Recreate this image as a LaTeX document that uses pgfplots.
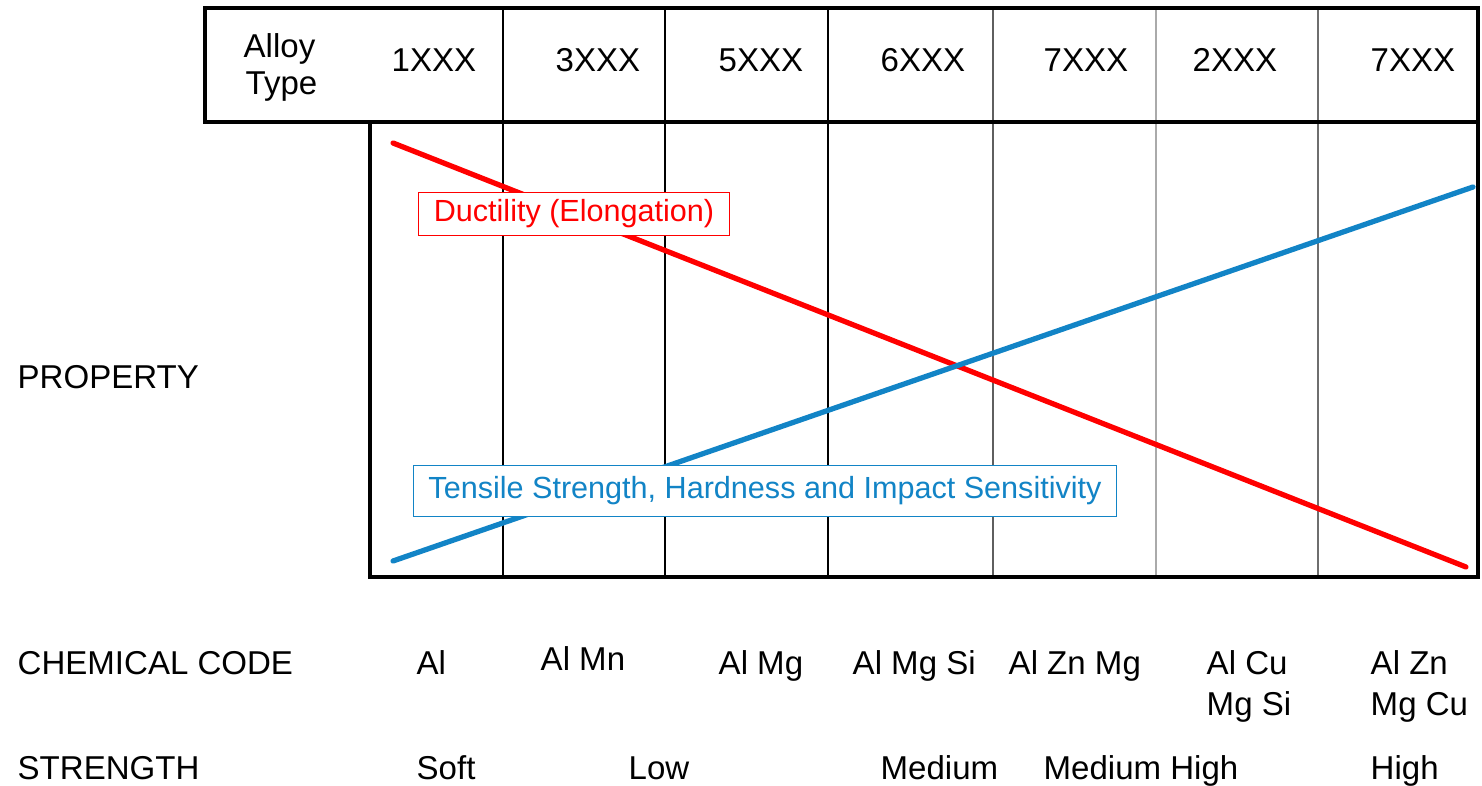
\documentclass[border=0pt]{standalone}
\usepackage{pgfplots}
\pgfplotsset{compat=1.18}
\usepackage{fontspec}
\setmainfont{Liberation Sans}
\definecolor{tblue}{RGB}{18,132,198}
\definecolor{dg}{RGB}{95,95,95}
\definecolor{lg}{RGB}{170,170,170}
\definecolor{mg}{RGB}{110,110,110}
\newcommand{\bigf}{\fontsize{9.4}{11}\selectfont}
\newcommand{\labf}{\fontsize{8.7}{10}\selectfont}
\begin{document}
\begin{tikzpicture}
\begin{axis}[width=14.82cm, height=7.85cm, scale only axis,
  xmin=0, xmax=1482, ymin=0, ymax=785, y dir=reverse,
  axis lines=none, clip=false]
\path (axis cs:0,0) rectangle (axis cs:1482,785);
% inner vertical lines
\draw[black, line width=0.6pt] (axis cs:503,8) -- (axis cs:503,577);
\draw[black, line width=0.6pt] (axis cs:665,8) -- (axis cs:665,577);
\draw[black, line width=0.6pt] (axis cs:828,8) -- (axis cs:828,577);
\draw[dg, line width=0.6pt] (axis cs:993,8) -- (axis cs:993,577);
\draw[lg, line width=0.6pt] (axis cs:1156,8) -- (axis cs:1156,577);
\draw[mg, line width=0.6pt] (axis cs:1318,8) -- (axis cs:1318,577);
% frames
\draw[black, line width=0.9pt] (axis cs:205,8) rectangle (axis cs:1478,122);
\draw[black, line width=0.9pt] (axis cs:370,122) -- (axis cs:370,577) -- (axis cs:1478,577) -- (axis cs:1478,122);
% data lines
\addplot[red, line width=1.5pt, line cap=round] coordinates {(393,143) (1466,567)};
\addplot[tblue, line width=1.5pt, line cap=round] coordinates {(393,561) (1473,187)};
% label boxes
\node[draw=red, fill=white, line width=0.4pt, minimum width=3.11cm, minimum height=0.43cm, inner sep=0pt, text=red, font=\labf] at (axis cs:574,214) {Ductility (Elongation)};
\node[draw=tblue, fill=white, line width=0.4pt, minimum width=7.03cm, minimum height=0.51cm, inner sep=0pt, text=tblue, font=\labf] at (axis cs:765,491) {Tensile Strength, Hardness and Impact Sensitivity};
% header text
\begin{scope}[every node/.style={anchor=base west, inner sep=0pt, font=\bigf}]
\node at (axis cs:243,58) {Alloy};
\node at (axis cs:245,95) {Type};
\node at (axis cs:391,72) {1XXX};
\node at (axis cs:555,72) {3XXX};
\node at (axis cs:718,72) {5XXX};
\node at (axis cs:880,72) {6XXX};
\node at (axis cs:1043,72) {7XXX};
\node at (axis cs:1192,72) {2XXX};
\node at (axis cs:1370,72) {7XXX};
% left labels
\node at (axis cs:17,389) {PROPERTY};
\node at (axis cs:17,674) {CHEMICAL CODE};
\node at (axis cs:17,779) {STRENGTH};
% chemical codes
\node at (axis cs:416,674) {Al};
\node at (axis cs:540,670) {Al Mn};
\node at (axis cs:718,674) {Al Mg};
\node at (axis cs:852,674) {Al Mg Si};
\node at (axis cs:1008,674) {Al Zn Mg};
\node at (axis cs:1206,674) {Al Cu};
\node at (axis cs:1206,715) {Mg Si};
\node at (axis cs:1370,674) {Al Zn};
\node at (axis cs:1370,715) {Mg Cu};
% strength
\node at (axis cs:416,779) {Soft};
\node at (axis cs:628,779) {Low};
\node at (axis cs:880,779) {Medium};
\node at (axis cs:1043,779) {Medium High};
\node at (axis cs:1370,779) {High};
\end{scope}
\end{axis}
\end{tikzpicture}
\end{document}
